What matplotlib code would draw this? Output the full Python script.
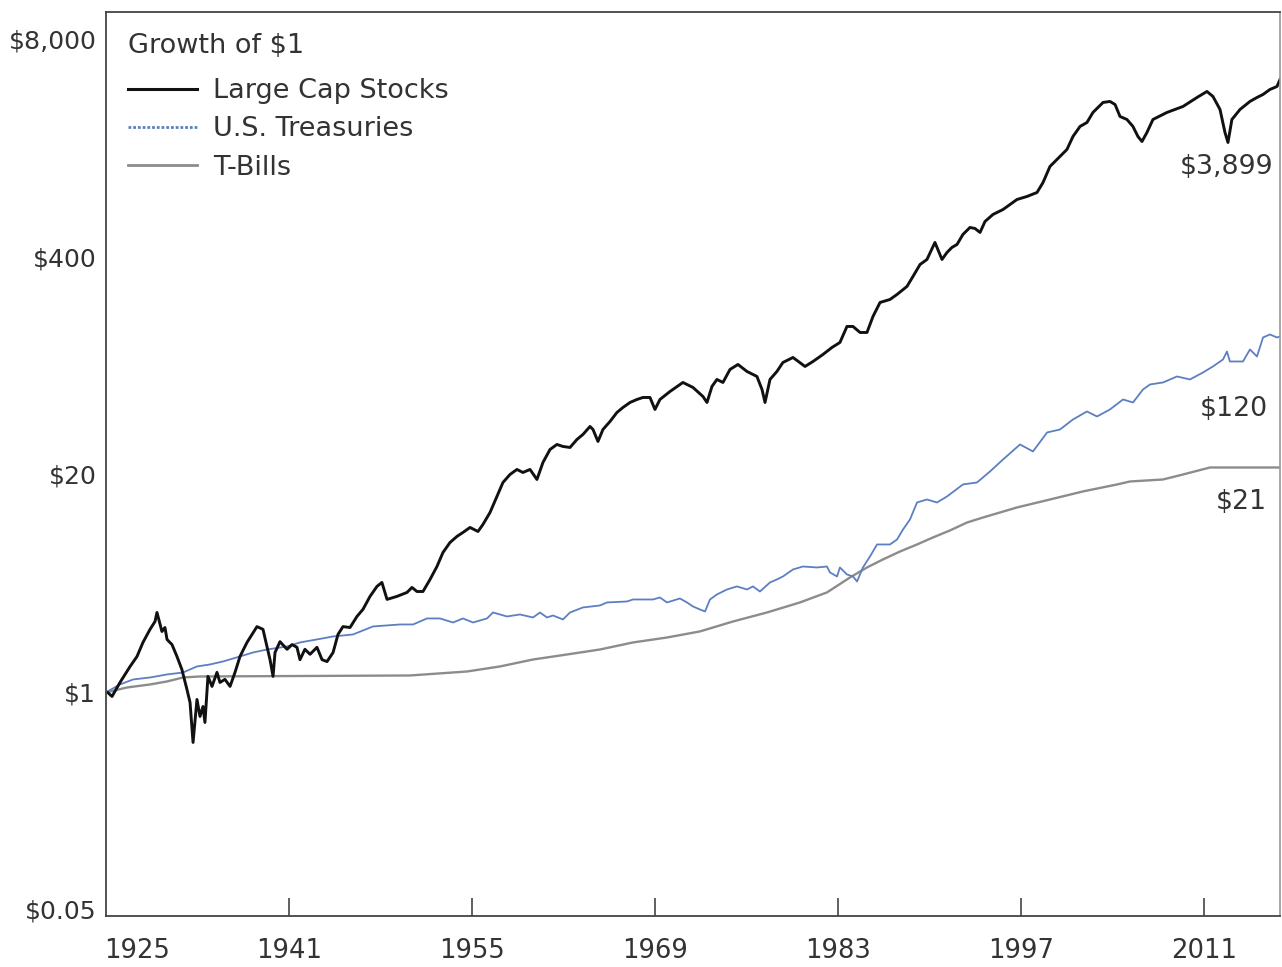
import matplotlib
matplotlib.use("Agg")
import matplotlib.pyplot as plt
from matplotlib.lines import Line2D
from matplotlib.ticker import NullLocator

# ---------------- data (x on the labelled year axis) ----------------
stock_years = [1927.15, 1927.46, 1928.07, 1928.84, 1929.37, 1929.83, 1930.37, 1930.75, 1930.90, 1931.28,
               1931.51, 1931.67, 1932.05, 1932.43, 1932.81, 1933.20, 1933.43, 1933.66, 1933.96, 1934.19,
               1934.42, 1934.57, 1934.80, 1935.11, 1935.49, 1935.72, 1936.10, 1936.49, 1936.87, 1937.25,
               1937.79, 1938.55, 1939.01, 1939.32, 1939.55, 1939.78, 1939.93, 1940.31, 1940.85, 1941.23,
               1941.61, 1941.84, 1942.22, 1942.61, 1943.14, 1943.53, 1943.91, 1944.37, 1944.75, 1945.13,
               1945.67, 1946.20, 1946.66, 1947.20, 1947.73, 1948.11, 1948.50, 1949.26, 1950.03, 1950.41,
               1950.79, 1951.25, 1951.79, 1952.32, 1952.78, 1953.32, 1953.85, 1954.31, 1954.85, 1955.46,
               1955.84, 1956.38, 1956.91, 1957.37, 1957.91, 1958.44, 1958.90, 1959.44, 1959.97, 1960.43,
               1960.97, 1961.50, 1961.96, 1962.50, 1963.03, 1963.49, 1964.03, 1964.26, 1964.64, 1965.02,
               1965.56, 1966.09, 1966.55, 1967.09, 1967.62, 1968.08, 1968.62, 1969.00, 1969.38, 1970.15,
               1971.14, 1971.91, 1972.67, 1972.98, 1973.36, 1973.74, 1974.20, 1974.74, 1975.35, 1976.04,
               1976.80, 1977.19, 1977.42, 1977.80, 1978.33, 1978.79, 1979.56, 1980.48, 1981.09, 1981.85,
               1982.54, 1983.15, 1983.69, 1984.15, 1984.69, 1985.22, 1985.68, 1986.22, 1986.98, 1987.52,
               1988.28, 1988.74, 1989.28, 1989.81, 1990.42, 1990.96, 1991.34, 1991.72, 1992.11, 1992.56,
               1993.10, 1993.48, 1993.87, 1994.25, 1994.86, 1995.63, 1996.70, 1997.46, 1998.23, 1998.69,
               1999.22, 1999.99, 2000.52, 2000.98, 2001.52, 2002.05, 2002.51, 2003.28, 2003.81, 2004.20,
               2004.58, 2005.11, 2005.57, 2005.95, 2006.26, 2006.64, 2007.10, 2008.17, 2009.40, 2010.47,
               2011.23, 2011.69, 2012.23, 2012.61, 2012.84, 2013.14, 2013.76, 2014.52, 2015.06, 2015.52,
               2016.05, 2016.59, 2016.82]
stock_values = [0.99, 0.94, 1.14, 1.42, 1.63, 1.98, 2.37, 2.64, 2.99, 2.30,
                2.43, 2.06, 1.92, 1.63, 1.36, 1.03, 0.865, 0.499, 0.902, 0.714,
                0.819, 0.657, 1.24, 1.08, 1.31, 1.14, 1.19, 1.08, 1.31, 1.63,
                1.98, 2.46, 2.37, 1.87, 1.56, 1.24, 1.72, 2.00, 1.80, 1.92,
                1.85, 1.56, 1.80, 1.68, 1.85, 1.56, 1.52, 1.72, 2.21, 2.46,
                2.43, 2.83, 3.12, 3.73, 4.28, 4.52, 3.58, 3.73, 3.94, 4.22,
                3.99, 3.99, 4.71, 5.63, 6.83, 7.84, 8.52, 9.00, 9.64, 9.12,
                10.05, 11.85, 14.77, 17.92, 20.0, 21.43, 20.56, 21.43, 18.67, 23.60,
                28.22, 30.24, 29.42, 29.01, 32.39, 34.70, 38.74, 37.17, 31.51, 37.17,
                41.50, 46.98, 50.33, 53.91, 56.19, 57.76, 57.76, 48.97, 56.19, 62.72,
                71.03, 66.29, 58.58, 53.91, 67.21, 74.03, 71.03, 84.95, 91.0, 82.65,
                77.15, 64.50, 53.91, 74.03, 82.65, 93.55, 100.2, 88.54, 94.83, 104.4,
                115.0, 123.2, 153.6, 153.6, 141.4, 141.4, 176.3, 213.8, 222.8, 238.7,
                266.6, 305.9, 360.7, 386.5, 488.6, 386.5, 425.6, 456.0, 475.3, 545.5,
                600.6, 592.5, 560.7, 652.3, 718.3, 769.3, 883.1, 920.4, 972.5, 1116,
                1391, 1597, 1759, 2103, 2414, 2550, 2928, 3360, 3407, 3268,
                2770, 2658, 2414, 2103, 1963, 2223, 2658, 2928, 3180, 3599,
                3909, 3650, 3051, 2223, 1936, 2658, 3051, 3407, 3599, 3751,
                4018, 4188, 4612]

treas_years = [1927.15, 1928.07, 1929.07, 1930.37, 1931.67, 1932.89, 1933.96, 1934.96, 1935.95, 1937.25,
               1938.25, 1939.32, 1940.85, 1941.84, 1943.14, 1944.37, 1945.90, 1947.43, 1949.49, 1950.49,
               1951.56, 1952.55, 1953.55, 1954.31, 1955.08, 1956.15, 1956.61, 1957.68, 1958.67, 1959.67,
               1960.20, 1960.74, 1961.20, 1961.96, 1962.50, 1963.49, 1964.79, 1965.33, 1966.86, 1967.32,
               1968.85, 1969.38, 1969.92, 1970.91, 1971.45, 1971.91, 1972.44, 1972.83, 1973.21, 1973.74,
               1974.51, 1975.27, 1976.04, 1976.50, 1977.03, 1977.80, 1978.33, 1978.79, 1979.56, 1980.32,
               1981.40, 1982.16, 1982.39, 1982.93, 1983.15, 1983.69, 1984.15, 1984.46, 1984.91, 1985.45,
               1985.99, 1986.98, 1987.52, 1987.98, 1988.51, 1989.05, 1989.81, 1990.58, 1991.34, 1992.56,
               1993.64, 1994.63, 1995.63, 1996.93, 1997.92, 1999.00, 1999.99, 2000.98, 2002.05, 2002.82,
               2003.81, 2004.81, 2005.57, 2006.34, 2006.87, 2007.87, 2008.94, 2009.93, 2010.93, 2011.69,
               2012.46, 2012.76, 2012.99, 2013.99, 2014.52, 2015.06, 2015.52, 2016.05, 2016.59, 2016.82]
treas_values = [1.01, 1.109, 1.188, 1.221, 1.273, 1.308, 1.421, 1.461, 1.522, 1.631,
                1.723, 1.795, 1.872, 1.978, 2.062, 2.148, 2.208, 2.466, 2.534, 2.534,
                2.753, 2.753, 2.604, 2.753, 2.604, 2.753, 2.989, 2.829, 2.908, 2.790,
                2.989, 2.790, 2.868, 2.715, 2.989, 3.203, 3.292, 3.431, 3.478, 3.575,
                3.575, 3.675, 3.431, 3.625, 3.431, 3.247, 3.115, 3.031, 3.575, 3.830,
                4.104, 4.28, 4.104, 4.28, 3.99, 4.52, 4.71, 4.909, 5.405, 5.63,
                5.556, 5.63, 5.186, 4.909, 5.556, 5.045, 4.909, 4.581, 5.556, 6.465,
                7.627, 7.627, 8.17, 9.38, 10.76, 13.60, 14.17, 13.60, 14.77, 17.43,
                17.92, 20.84, 24.59, 30.24, 27.46, 35.67, 37.17, 42.66, 47.63, 44.46,
                48.97, 56.19, 53.91, 64.50, 69.09, 71.03, 77.15, 74.03, 81.53, 88.54,
                97.48, 108.8, 94.83, 94.83, 111.9, 101.6, 132.0, 137.6, 132.0, 133.9]

bill_years = [1927.15, 1928.61, 1930.37, 1931.67, 1932.89, 1934.19, 1950.26, 1954.62, 1957.14, 1959.67,
              1962.27, 1964.79, 1967.32, 1969.92, 1972.44, 1974.97, 1977.57, 1980.09, 1982.16, 1983.92,
              1985.22, 1986.44, 1987.75, 1989.05, 1990.27, 1991.57, 1992.87, 1994.10, 1995.40, 1996.70,
              1999.22, 2001.74, 2004.35, 2005.34, 2007.87, 2009.40, 2011.46, 2016.82]
bill_values = [1.00, 1.064, 1.109, 1.156, 1.221, 1.238, 1.255, 1.326, 1.421, 1.564,
               1.676, 1.795, 1.978, 2.118, 2.302, 2.640, 2.989, 3.431, 3.94, 4.841,
               5.556, 6.204, 6.924, 7.627, 8.40, 9.25, 10.32, 11.06, 11.85, 12.70,
               14.17, 15.83, 17.43, 18.16, 18.67, 20.0, 22.02, 22.02]

series_names = ["Large Cap Stocks", "U.S. Treasuries", "T-Bills"]
end_labels = ["$3,899", "$120", "$21"]
legend_title = "Growth of $1"

ytick_values = [0.05, 1, 20, 400, 8000]
ytick_labels = ["$0.05", "$1", "$20", "$400", "$8,000"]
xtick_labels = ["1925", "1941", "1955", "1969", "1983", "1997", "2011"]
xtick_pos = [1929.4, 1941, 1955, 1969, 1983, 1997, 2011]

# ---------------- styling ----------------
C_STOCK = "#111111"
C_TREAS = "#5d7fc2"
C_BILL = "#8c8c8c"
C_TEXT = "#333333"

plt.rcParams["font.family"] = ["DejaVu Sans"]

W, H = 1282, 967
fig = plt.figure(figsize=(W / 100, H / 100), dpi=100)
ax = fig.add_axes([106 / W, 1 - 916 / H, (1280 - 106) / W, (916 - 12) / H])

ax.plot(bill_years, bill_values, color=C_BILL, lw=1.7, solid_joinstyle="round")
ax.plot(treas_years, treas_values, color=C_TREAS, lw=1.3, solid_joinstyle="round")
ax.plot(stock_years, stock_values, color=C_STOCK, lw=2.1, solid_joinstyle="round")

ax.set_yscale("log")
ax.set_ylim(0.0457, 11681)
ax.set_xlim(1927.0, 2016.82)

ax.set_yticks(ytick_values)
ax.set_yticklabels(ytick_labels)
ax.yaxis.set_minor_locator(NullLocator())
ax.tick_params(axis="y", length=0, pad=7, labelsize=18.1, labelcolor=C_TEXT)

ax.set_xticks(xtick_pos)
ax.set_xticklabels(xtick_labels)
ax.xaxis.set_minor_locator(NullLocator())
ax.tick_params(axis="x", direction="in", length=13, width=1.2, color="#444444",
               pad=16, labelsize=18.6, labelcolor=C_TEXT)
ax.xaxis.get_major_ticks()[0].tick1line.set_visible(False)

for side in ["left", "bottom", "top"]:
    ax.spines[side].set_color("#444444")
    ax.spines[side].set_linewidth(1.3)
ax.spines["right"].set_color("#9a9a9a")
ax.spines["right"].set_linewidth(1.2)

# end-value labels
ax.text(2016.28, 1372, end_labels[0], ha="right", va="center", fontsize=19.3, color=C_TEXT)
ax.text(2015.90, 49.6, end_labels[1], ha="right", va="center", fontsize=19.3, color=C_TEXT)
ax.text(2015.82, 13.6, end_labels[2], ha="right", va="center", fontsize=19.3, color=C_TEXT)

# legend title + legend
ax.text(22 / 1174, (916 - 46) / 904, legend_title, transform=ax.transAxes,
        ha="left", va="center", fontsize=19.5, color=C_TEXT)
handles = [Line2D([], [], color=C_STOCK, lw=2.2),
           Line2D([], [], color=C_TREAS, lw=2.0, linestyle=(0, (1.0, 0.7))),
           Line2D([], [], color=C_BILL, lw=2.0)]
leg = ax.legend(handles, series_names, loc="upper left",
                bbox_to_anchor=(0.0187, (916 - 78) / 904), frameon=False, fontsize=19.5,
                handlelength=2.55, handletextpad=0.59,
                labelspacing=0.46, borderaxespad=0, borderpad=0)
for t in leg.get_texts():
    t.set_color(C_TEXT)

fig.savefig("out.png", dpi=100)
